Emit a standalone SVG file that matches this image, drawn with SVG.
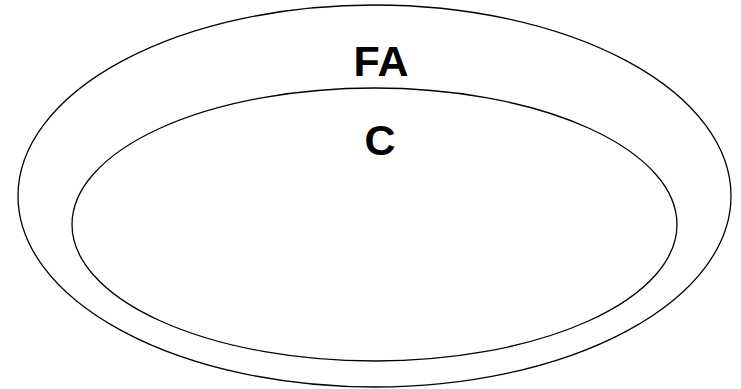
<svg xmlns="http://www.w3.org/2000/svg" width="741" height="389" viewBox="0 0 741 389">
<style>
.e{fill:none;stroke:#000;stroke-width:1.3}
.t{font-family:"Liberation Sans",Arial,sans-serif;font-weight:bold;font-size:43px;text-anchor:middle;fill:#000}
</style>
<rect width="741" height="389" fill="#fff"/>
<g id="FA">
<ellipse class="e" cx="374.5" cy="196" rx="356.5" ry="191"/>
<text class="t" x="381" y="76">FA</text>
</g>
<g id="C">
<ellipse class="e" cx="374.5" cy="224.5" rx="302.5" ry="136.5"/>
<text class="t" x="380" y="155">C</text>
</g>
<g id="connectors"/>
</svg>
